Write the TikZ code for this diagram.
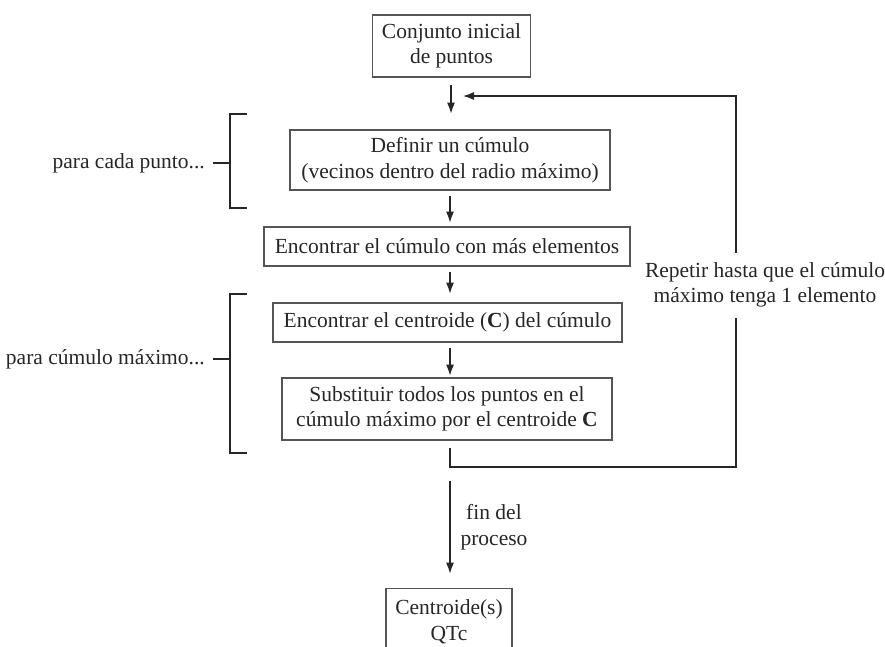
\documentclass[tikz,border=0pt]{standalone}
\usepackage{fontspec}
\setmainfont{Liberation Serif}
\usetikzlibrary{arrows.meta}
\definecolor{ink}{HTML}{262626}
\definecolor{boxline}{HTML}{555555}
\begin{document}
\begin{tikzpicture}[x=1pt,y=-1pt,
  every node/.style={font=\fontsize{21.5}{25.5}\selectfont, text=ink},
  box/.style={draw=boxline, line width=1.2pt, rectangle, inner sep=0pt, align=center},
  arr/.style={draw=ink, line width=1.2pt, -{Latex[length=11pt,width=8pt]}},
  ln/.style={draw=ink, line width=1.2pt},
  lbl/.style={align=center, inner sep=0pt}]
\useasboundingbox (0,0) rectangle (885,646);
\clip (0,0) rectangle (885,646);
\node[box, minimum width=158pt, minimum height=62pt] (b1) at (451.5,46) {Conjunto inicial\\de puntos};
\node[box, minimum width=320pt, minimum height=60pt] (b2) at (450,160) {Definir un cúmulo\\(vecinos dentro del radio máximo)};
\node[box, minimum width=366pt, minimum height=39pt] (b3) at (447,246.5) {Encontrar el cúmulo con más elementos};
\node[box, minimum width=349pt, minimum height=39pt] (b4) at (447.5,322.5) {Encontrar el centroide (\textbf{C}) del cúmulo};
\node[box, minimum width=330pt, minimum height=62pt] (b5) at (447,409) {Substituir todos los puntos en el\\cúmulo máximo por el centroide \textbf{C}};
\node[box, minimum width=126pt, minimum height=66pt, anchor=north] (b6) at (449,588) {Centroide(s)\\QTc};
% main arrows
\draw[arr] ([xshift=-0.5pt]b1.south) ++(0,7) -- ++(0,29);
\draw[arr] (b2.south) ++(0,5) -- ++(0,27);
\draw[arr] (b3.south) ++(3,5) -- ++(0,22);
\draw[arr] (b4.south) ++(2.5,5) -- ++(0,28);
\draw[arr] (b5.south) ++(3,40) -- ++(0,93);
\node[lbl] (fin) at (494,527) {fin del\\proceso};
% feedback loop
\node[lbl] (rep) at (765,285) {Repetir hasta que el cúmulo\\máximo tenga 1 elemento};
\coordinate (fbend) at (463,96);
\draw[ln] (b5.south) ++(3,7) -- (450,467) -- (736,467) -- (736,318);
\draw[arr] (736,253) -- (736,96) -- (fbend);
% brackets
\draw[ln] (247,114) -- (230,114) -- (230,208) -- (247,208);
\draw[ln] (213,163) -- (230,163);
\node[lbl, anchor=east] (pc) at (205,163) {para cada punto...};
\draw[ln] (247,294) -- (230,294) -- (230,453) -- (247,453);
\draw[ln] (213,359) -- (230,359);
\node[lbl, anchor=east] (pm) at (205,359) {para cúmulo máximo...};
\end{tikzpicture}
\end{document}
